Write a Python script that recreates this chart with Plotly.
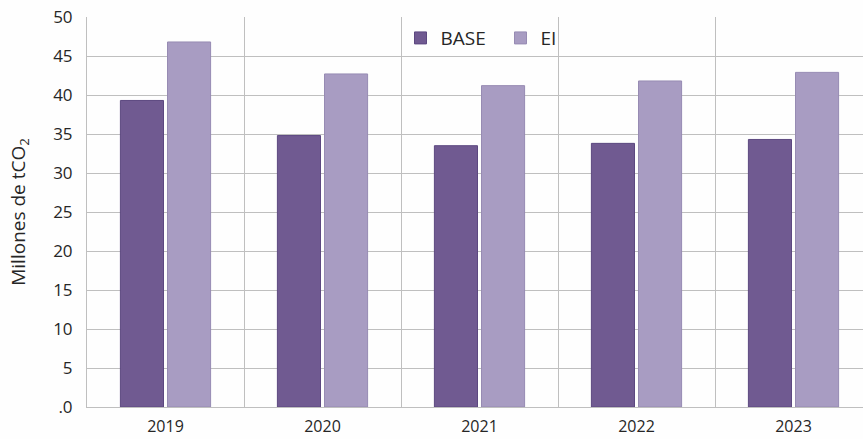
import plotly.graph_objects as go

# Annual emissions, millions of tCO2
years = ["2019", "2020", "2021", "2022", "2023"]
base_values = [39.3, 34.8, 33.5, 33.8, 34.3]
ei_values = [46.8, 42.7, 41.2, 41.8, 42.9]

y_tick_values = [0, 5, 10, 15, 20, 25, 30, 35, 40, 45, 50]
y_tick_labels = [".0", "5", "10", "15", "20", "25", "30", "35", "40", "45", "50"]

FONT = "Open Sans, Noto Sans, sans-serif"
GRID = "#bfbfbf"
TEXT = "#262626"

fig = go.Figure()
fig.add_trace(go.Bar(
    name="BASE", x=years, y=base_values,
    marker=dict(color="#705a91", line=dict(color="#5c4880", width=1)),
))
fig.add_trace(go.Bar(
    name="EI", x=years, y=ei_values,
    marker=dict(color="#a89cc2", line=dict(color="#978bb3", width=1)),
))

fig.update_layout(
    width=863, height=439,
    margin=dict(l=87, r=0, t=17, b=32),
    paper_bgcolor="#fefefe", plot_bgcolor="#fefefe",
    barmode="group", bargap=0.40, bargroupgap=0.085,
    font=dict(family=FONT, color=TEXT),
    showlegend=True,
    legend=dict(
        orientation="h", x=0.404, xanchor="left", y=0.946, yanchor="middle",
        bgcolor="rgba(0,0,0,0)", font=dict(size=19, color=TEXT),
        itemwidth=30, entrywidth=55, entrywidthmode="pixels",
        traceorder="normal",
    ),
)

fig.update_xaxes(
    type="category",
    range=[-0.5, -0.5 + 776 / 157],
    tickson="boundaries", ticks="", showgrid=True, gridcolor=GRID, gridwidth=1,
    showline=True, linecolor=GRID, linewidth=1,
    tickfont=dict(size=16, color=TEXT), ticklabelstandoff=5,
    zeroline=False,
)
fig.update_yaxes(
    range=[0, 50],
    tickmode="array", tickvals=y_tick_values, ticktext=y_tick_labels,
    showgrid=True, gridcolor=GRID, gridwidth=1,
    showline=True, linecolor=GRID, linewidth=1,
    tickfont=dict(size=17, color=TEXT), ticklabelstandoff=10,
    zeroline=False,
    title=dict(text="Millones de tCO<sub>2</sub>", font=dict(size=19, color=TEXT), standoff=22),
)

fig.write_html("out.html")
